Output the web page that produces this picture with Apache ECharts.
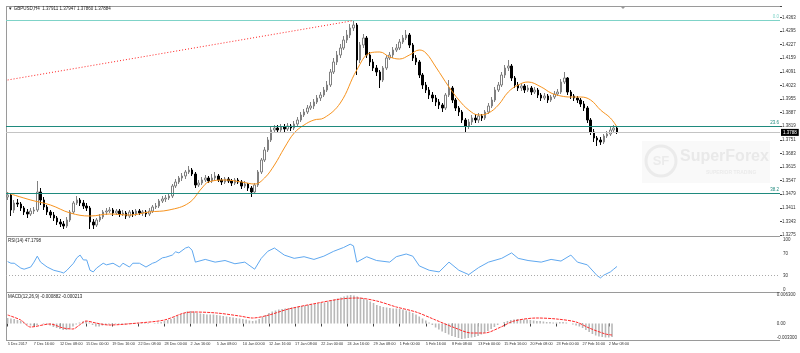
<!DOCTYPE html>
<html>
<head>
<meta charset="utf-8">
<script src="https://cdn.jsdelivr.net/npm/echarts@6/dist/echarts.min.js"></script>
<style>
html, body { margin: 0; padding: 0; background: #fff; }
#chart { width: 800px; height: 353px; }
</style>
</head>
<body>
<div id="chart"></div>
<script>
// time labels, one every 8 slots (each slot = 2 H4 bars)
const tickLabels = ['5 Dec 2017', '7 Dec 16:00', '12 Dec 08:00', '15 Dec 00:00', '19 Dec 16:00', '22 Dec 08:00',
  '28 Dec 00:00', '2 Jan 16:00', '5 Jan 08:00', '10 Jan 00:00', '12 Jan 16:00', '17 Jan 08:00', '22 Jan 00:00',
  '24 Jan 16:00', '29 Jan 08:00', '1 Feb 00:00', '5 Feb 16:00', '8 Feb 08:00', '13 Feb 00:00', '15 Feb 16:00',
  '20 Feb 08:00', '23 Feb 00:00', '27 Feb 16:00', '2 Mar 08:00']
const slotCount = 235

const open = [
  1.3465,1.3475,1.3400,1.3435,1.3430,1.3410,1.3390,1.3380,1.3395,1.3400,
  1.3490,1.3450,1.3415,1.3390,1.3375,1.3360,1.3340,1.3330,1.3320,1.3350,
  1.3390,1.3435,1.3450,1.3435,1.3420,1.3410,1.3340,1.3325,1.3350,1.3365,
  1.3390,1.3395,1.3400,1.3385,1.3395,1.3380,1.3385,1.3370,1.3390,1.3380,
  1.3395,1.3385,1.3390,1.3380,1.3395,1.3415,1.3420,1.3445,1.3455,1.3460,
  1.3470,1.3520,1.3540,1.3560,1.3570,1.3590,1.3600,1.3580,1.3525,1.3535,
  1.3550,1.3560,1.3545,1.3560,1.3570,1.3550,1.3540,1.3555,1.3545,1.3535,
  1.3550,1.3540,1.3520,1.3530,1.3510,1.3490,1.3525,1.3590,1.3650,1.3700,
  1.3750,1.3800,1.3810,1.3800,1.3815,1.3805,1.3820,1.3810,1.3830,1.3850,
  1.3875,1.3890,1.3910,1.3920,1.3940,1.3960,1.3975,1.4000,1.4025,1.4090,
  1.4140,1.4175,1.4210,1.4250,1.4275,1.4310,1.4325,1.4150,1.4225,1.4260,
  1.4175,1.4140,1.4110,1.4090,1.4050,1.4110,1.4160,1.4175,1.4200,1.4210,
  1.4240,1.4260,1.4275,1.4225,1.4160,1.4140,1.4075,1.4025,1.4000,1.3975,
  1.3960,1.3940,1.3925,1.3910,1.3975,1.4010,1.3950,1.3910,1.3890,1.3850,
  1.3820,1.3840,1.3860,1.3850,1.3870,1.3860,1.3890,1.3920,1.3950,1.4000,
  1.4025,1.4075,1.4110,1.4120,1.4060,1.4025,1.4010,1.4020,1.4000,1.4010,
  1.3990,1.4000,1.3975,1.3960,1.3970,1.3950,1.3965,1.3980,1.3990,1.4040,
  1.4060,1.3990,1.3970,1.3960,1.3950,1.3930,1.3910,1.3850,1.3790,1.3760,
  1.3750,1.3740,1.3770,1.3780,1.3800,1.3810
]
const close = [
  1.3475,1.3400,1.3435,1.3430,1.3410,1.3390,1.3380,1.3395,1.3400,1.3490,
  1.3450,1.3415,1.3390,1.3375,1.3360,1.3340,1.3330,1.3320,1.3350,1.3390,
  1.3435,1.3450,1.3435,1.3420,1.3410,1.3340,1.3325,1.3350,1.3365,1.3390,
  1.3395,1.3400,1.3385,1.3395,1.3380,1.3385,1.3370,1.3390,1.3380,1.3395,
  1.3385,1.3390,1.3380,1.3395,1.3415,1.3420,1.3445,1.3455,1.3460,1.3470,
  1.3520,1.3540,1.3560,1.3570,1.3590,1.3600,1.3580,1.3525,1.3535,1.3550,
  1.3560,1.3545,1.3560,1.3570,1.3550,1.3540,1.3555,1.3545,1.3535,1.3550,
  1.3540,1.3520,1.3530,1.3510,1.3490,1.3525,1.3590,1.3650,1.3700,1.3750,
  1.3800,1.3810,1.3800,1.3815,1.3805,1.3820,1.3810,1.3830,1.3850,1.3875,
  1.3890,1.3910,1.3920,1.3940,1.3960,1.3975,1.4000,1.4025,1.4090,1.4140,
  1.4175,1.4210,1.4250,1.4275,1.4310,1.4325,1.4150,1.4225,1.4260,1.4175,
  1.4140,1.4110,1.4090,1.4050,1.4110,1.4160,1.4175,1.4200,1.4210,1.4240,
  1.4260,1.4275,1.4225,1.4160,1.4140,1.4075,1.4025,1.4000,1.3975,1.3960,
  1.3940,1.3925,1.3910,1.3975,1.4010,1.3950,1.3910,1.3890,1.3850,1.3820,
  1.3840,1.3860,1.3850,1.3870,1.3860,1.3890,1.3920,1.3950,1.4000,1.4025,
  1.4075,1.4110,1.4120,1.4060,1.4025,1.4010,1.4020,1.4000,1.4010,1.3990,
  1.4000,1.3975,1.3960,1.3970,1.3950,1.3965,1.3980,1.3990,1.4040,1.4060,
  1.3990,1.3970,1.3960,1.3950,1.3930,1.3910,1.3850,1.3790,1.3760,1.3750,
  1.3740,1.3770,1.3780,1.3800,1.3810,1.3788
]
const high = [
  1.3490,1.3485,1.3450,1.3455,1.3440,1.3420,1.3405,1.3410,1.3415,1.3545,
  1.3510,1.3465,1.3425,1.3400,1.3390,1.3370,1.3355,1.3345,1.3365,1.3400,
  1.3445,1.3470,1.3460,1.3450,1.3435,1.3420,1.3355,1.3360,1.3380,1.3400,
  1.3410,1.3415,1.3410,1.3405,1.3405,1.3400,1.3395,1.3400,1.3400,1.3405,
  1.3405,1.3400,1.3400,1.3410,1.3425,1.3435,1.3455,1.3470,1.3475,1.3485,
  1.3530,1.3555,1.3570,1.3585,1.3600,1.3620,1.3610,1.3590,1.3550,1.3565,
  1.3575,1.3570,1.3580,1.3590,1.3580,1.3560,1.3565,1.3565,1.3555,1.3560,
  1.3560,1.3550,1.3545,1.3535,1.3520,1.3535,1.3600,1.3660,1.3715,1.3765,
  1.3815,1.3825,1.3825,1.3830,1.3830,1.3835,1.3830,1.3845,1.3865,1.3890,
  1.3905,1.3925,1.3940,1.3955,1.3975,1.3990,1.4015,1.4045,1.4105,1.4160,
  1.4195,1.4230,1.4270,1.4300,1.4330,1.4345,1.4335,1.4240,1.4280,1.4270,
  1.4190,1.4155,1.4125,1.4100,1.4120,1.4175,1.4190,1.4215,1.4230,1.4255,
  1.4275,1.4300,1.4285,1.4235,1.4175,1.4150,1.4085,1.4040,1.4015,1.3990,
  1.3975,1.3955,1.3935,1.3985,1.4050,1.4020,1.3960,1.3920,1.3900,1.3860,
  1.3855,1.3875,1.3880,1.3885,1.3880,1.3900,1.3935,1.3965,1.4015,1.4040,
  1.4090,1.4125,1.4150,1.4130,1.4070,1.4040,1.4035,1.4030,1.4025,1.4020,
  1.4015,1.4010,1.3985,1.3985,1.3980,1.3975,1.3995,1.4005,1.4055,1.4090,
  1.4065,1.4000,1.3980,1.3970,1.3960,1.3945,1.3920,1.3860,1.3805,1.3770,
  1.3765,1.3780,1.3795,1.3815,1.3825,1.3815
]
const low = [
  1.3450,1.3370,1.3385,1.3415,1.3395,1.3375,1.3360,1.3370,1.3380,1.3390,
  1.3425,1.3400,1.3375,1.3360,1.3345,1.3325,1.3315,1.3305,1.3310,1.3340,
  1.3380,1.3425,1.3420,1.3405,1.3395,1.3305,1.3305,1.3315,1.3340,1.3355,
  1.3375,1.3385,1.3370,1.3375,1.3365,1.3370,1.3355,1.3360,1.3365,1.3370,
  1.3375,1.3370,1.3365,1.3370,1.3385,1.3405,1.3410,1.3435,1.3440,1.3450,
  1.3460,1.3510,1.3530,1.3545,1.3555,1.3580,1.3570,1.3510,1.3515,1.3525,
  1.3540,1.3535,1.3535,1.3550,1.3540,1.3525,1.3530,1.3535,1.3520,1.3525,
  1.3530,1.3505,1.3510,1.3495,1.3465,1.3480,1.3515,1.3580,1.3640,1.3690,
  1.3740,1.3785,1.3785,1.3790,1.3790,1.3795,1.3795,1.3800,1.3820,1.3840,
  1.3865,1.3880,1.3900,1.3905,1.3930,1.3945,1.3965,1.3990,1.4015,1.4080,
  1.4125,1.4160,1.4200,1.4235,1.4260,1.4295,1.4075,1.4135,1.4210,1.4160,
  1.4120,1.4095,1.4070,1.4010,1.4040,1.4100,1.4150,1.4160,1.4190,1.4200,
  1.4230,1.4250,1.4210,1.4145,1.4125,1.4060,1.4005,1.3985,1.3955,1.3940,
  1.3920,1.3905,1.3890,1.3900,1.3965,1.3935,1.3895,1.3870,1.3835,1.3785,
  1.3805,1.3825,1.3835,1.3835,1.3845,1.3850,1.3880,1.3910,1.3940,1.3990,
  1.4015,1.4060,1.4095,1.4045,1.4010,1.3995,1.3995,1.3985,1.3990,1.3975,
  1.3980,1.3960,1.3945,1.3950,1.3935,1.3940,1.3955,1.3970,1.3980,1.4030,
  1.3975,1.3955,1.3945,1.3935,1.3915,1.3895,1.3835,1.3775,1.3740,1.3720,
  1.3725,1.3730,1.3760,1.3770,1.3790,1.3780
]

// moving average, read at [slot, price]
const maPoints = [
  [0,1.3485],[7,1.3450],[13,1.3425],[19,1.3385],[25,1.3370],[31,1.3380],[37,1.3375],[43,1.3390],[49,1.3400],[55,1.3435],
  [59,1.3510],[61,1.3540],[66,1.3550],[71,1.3540],[75,1.3530],[78,1.3560],[81,1.3625],[84,1.3710],[87,1.3785],[90,1.3825],
  [93,1.3850],[96,1.3860],[101,1.3935],[106,1.4100],[110,1.4185],[113,1.4190],[116,1.4165],[119,1.4155],[122,1.4175],[125,1.4200],
  [127,1.4185],[130,1.4115],[134,1.4015],[137,1.3950],[140,1.3900],[143,1.3875],[146,1.3885],[149,1.3925],[152,1.3990],[155,1.4025],
  [158,1.4040],[162,1.4015],[165,1.3985],[168,1.3970],[171,1.3965],[174,1.3965],[177,1.3950],[180,1.3900],[183,1.3860],[185,1.3815]
]

const rsiPoints = [
  [0,56],[1,53],[2,53],[4,44],[5,42],[7,46],[8,55],[9,66],[10,55],[12,46],[14,40],[16,37],[17,35],[18,40],[20,53],
  [21,63],[22,68],[23,59],[24,59],[25,40],[26,37],[27,44],[29,53],[30,50],[32,53],[34,46],[35,53],[37,46],[38,53],
  [40,53],[42,46],[44,53],[45,55],[47,63],[48,64],[50,68],[51,74],[52,72],[54,81],[55,83],[56,77],[57,55],[60,60],
  [63,55],[66,58],[69,52],[72,55],[75,42],[77,62],[79,75],[81,81],[84,68],[87,62],[90,65],[93,60],[96,66],[99,75],
  [102,82],[104,88],[105,85],[106,55],[109,65],[112,58],[116,55],[118,65],[121,70],[123,66],[125,48],[128,40],
  [131,37],[134,55],[137,40],[140,32],[143,45],[146,55],[150,62],[153,72],[155,62],[158,58],[162,55],[165,60],
  [168,57],[171,68],[173,55],[176,50],[179,30],[180,26],[181,31],[183,37],[184,42],[185,47]
]

// MACD histogram, in units of 0.0001
const macdHist = [
  11,10,9,7,5,2,-2,-4,-5,-3,
  0,-1,-2,-4,-7,-9,-11,-13,-13,-10,
  -6,-2,2,4,5,2,-3,-6,-6,-4,
  -3,-2,-2,-1,-1,-1,-2,-1,-1,-1,
  -1,-1,-1,-1,0,1,2,3,5,7,
  9,12,15,18,21,24,25,24,21,20,
  19,18,18,18,17,16,15,14,13,12,
  11,10,9,8,6,5,6,9,13,17,
  21,24,26,28,29,30,31,32,33,34,
  35,36,37,38,39,40,41,42,44,46,
  48,50,52,54,56,57,56,54,52,50,
  47,44,41,37,35,33,32,31,30,30,
  29,28,26,24,21,18,14,10,6,2,
  -3,-8,-12,-16,-19,-22,-25,-27,-29,-31,
  -30,-29,-28,-27,-25,-22,-19,-15,-11,-7,
  -3,0,3,5,7,8,9,9,8,8,
  7,6,5,5,4,3,3,2,2,3,
  3,2,0,-2,-4,-6,-9,-13,-17,-21,
  -24,-26,-27,-28,-28,-27
]
// MACD signal line, [slot, value in 0.0001]
const signalPoints = [
  [0,17],[4,7],[7,-7],[13,-1],[17,-9],[20,-11],[22,-3],[24,5],[27,1],[31,-3],[40,1],[48,7],[54,21],[57,23],
  [64,21],[71,15],[75,11],[80,17],[86,29],[95,41],[102,49],[107,51],[113,45],[119,33],[125,23],[131,7],
  [137,-9],[142,-19],[146,-19],[151,-7],[155,5],[162,11],[168,9],[174,3],[178,-9],[183,-21],[185,-23]
]

const fibLevels = [['0.0', 1.4347, '#7fd3c8'], ['23.6', 1.3820, '#1f8a7e'], ['38.2', 1.3485, '#1f8a7e']]
const bidPrice = 1.3788
const trendFrom = [0, 1.4050]
const trendTo = [105, 1.4347]

const priceMin = 1.3275
const priceMax = 1.4420
const priceStep = 0.0068

const chart = echarts.init(document.getElementById('chart'))

const slots = Array.from({ length: slotCount }, (_, i) => String(i))
const ohlc = close.map((c, i) => [open[i], c, low[i], high[i]])
const FONT = 'Liberation Sans'
const txt = '#333'

const hiddenX = (gi) => ({
  type: 'category', gridIndex: gi, data: slots, boundaryGap: true,
  axisLine: { show: false }, axisTick: { show: false }, axisLabel: { show: false }, splitLine: { show: false }
})
const showTick = (i) => i % 8 === 0 && i / 8 < tickLabels.length

const onStep = (v) => {
  const k = (v - priceMin) / priceStep
  return Math.abs(k - Math.round(k)) < 1e-6
}

const border = (x1, y1, x2, y2) => ({
  type: 'line', shape: { x1, y1, x2, y2 }, style: { stroke: '#9a9a9a', lineWidth: 1 }, silent: true
})

const option = {
  animation: false,
  backgroundColor: '#fff',
  grid: [
    { left: 6, right: 20, top: 6, height: 229 },
    { left: 6, right: 20, top: 237.7, height: 54.3 },
    { left: 6, right: 20, top: 292, height: 48 }
  ],
  xAxis: [
    hiddenX(0),
    hiddenX(1),
    {
      ...hiddenX(2),
      axisTick: { show: true, interval: showTick, alignWithLabel: true, length: 3, lineStyle: { color: '#444' } },
      axisLabel: {
        show: true, interval: showTick, align: 'left', margin: 2, fontSize: 3.8, color: txt, fontFamily: FONT,
        formatter: (v, i) => tickLabels[i / 8] || ''
      }
    }
  ],
  yAxis: [
    {
      type: 'value', gridIndex: 0, position: 'right', min: priceMin, max: priceMax, interval: priceStep,
      splitLine: { show: false }, axisLine: { show: false },
      axisTick: { show: true, length: 2, lineStyle: { color: '#444' } },
      axisLabel: { fontSize: 4.5, color: txt, margin: 2, fontFamily: FONT, formatter: v => onStep(v) ? v.toFixed(4) : '' }
    },
    {
      type: 'value', gridIndex: 1, position: 'right', min: 0, max: 100, interval: 10,
      splitLine: { show: false }, axisLine: { show: false }, axisTick: { show: false },
      axisLabel: { fontSize: 4.5, color: txt, margin: 3, fontFamily: FONT,
        verticalAlignMinLabel: 'bottom', verticalAlignMaxLabel: 'top',
        formatter: v => [0, 30, 70, 100].includes(Math.round(v)) ? String(Math.round(v)) : '' }
    },
    {
      type: 'value', gridIndex: 2, position: 'right', min: -0.0033, max: 0.0063, interval: 0.0033,
      splitLine: { show: false }, axisLine: { show: false }, axisTick: { show: false },
      axisLabel: { fontSize: 4.5, color: txt, margin: 3, fontFamily: FONT,
        verticalAlignMinLabel: 'bottom', verticalAlignMaxLabel: 'top',
        formatter: v => {
          if (Math.abs(v) < 1e-9) return '0.00'
          if (Math.abs(v + 0.0033) < 1e-9 || Math.abs(v - 0.0063) < 1e-9) return v.toFixed(6)
          return ''
        } }
    }
  ],
  series: [
    {
      type: 'candlestick', xAxisIndex: 0, yAxisIndex: 0, data: ohlc, barWidth: 2,
      itemStyle: { color: '#ffffff', color0: '#000000', borderColor: '#808080', borderColor0: '#000000', borderWidth: 1 }
    },
    {
      type: 'line', xAxisIndex: 0, yAxisIndex: 0, data: maPoints, smooth: 0.4, symbol: 'none',
      lineStyle: { color: '#f7931e', width: 1 },
      markLine: {
        silent: true, symbol: ['none', 'none'], animation: false, precision: 5,
        data: [
          ...fibLevels.map(([name, val, col]) => ({
            yAxis: val, lineStyle: { color: col, width: 1, type: 'solid' },
            label: { show: true, position: 'insideEndTop', formatter: name, fontSize: 4.5, color: col, distance: 1, fontFamily: FONT }
          })),
          {
            yAxis: bidPrice, lineStyle: { color: '#c4c4c4', width: 1, type: 'solid' },
            label: { show: true, position: 'end', formatter: bidPrice.toFixed(4), fontSize: 4.5, color: '#fff',
              backgroundColor: '#000', padding: [1, 2], distance: 1, fontFamily: FONT }
          },
          [
            { coord: [trendFrom[0], trendFrom[1]], lineStyle: { color: '#ff2020', width: 1, type: [1, 2] }, label: { show: false } },
            { coord: [trendTo[0], trendTo[1]] }
          ]
        ]
      }
    },
    {
      type: 'line', xAxisIndex: 1, yAxisIndex: 1, data: rsiPoints, symbol: 'none',
      lineStyle: { color: '#5fa8f0', width: 1 },
      markLine: {
        silent: true, symbol: ['none', 'none'], label: { show: false },
        data: [{ yAxis: 30, lineStyle: { color: '#aaaaaa', type: [1, 2], width: 1 } }]
      }
    },
    {
      type: 'bar', xAxisIndex: 2, yAxisIndex: 2, data: macdHist.map(v => v / 10000), barWidth: 1.6,
      itemStyle: { color: '#b8b8b8' }
    },
    {
      type: 'line', xAxisIndex: 2, yAxisIndex: 2, data: signalPoints.map(([i, v]) => [i, v / 10000]),
      smooth: 0.3, symbol: 'none', lineStyle: { color: '#ff2a2a', width: 1, type: [3, 1] }
    }
  ],
  graphic: [
    border(6, 6.5, 780, 6.5),
    border(6, 236.5, 780, 236.5),
    border(6, 292.5, 780, 292.5),
    border(6, 340.5, 780, 340.5),
    border(6.5, 6, 6.5, 341),
    { type: 'polygon', shape: { points: [[620, 6], [626, 6], [623, 9]] }, style: { fill: '#999' }, silent: true },
    { type: 'text', left: 8, top: 6.5, style: { text: '▼ GBPUSD,H4  1.37911 1.37947 1.37860 1.37884', fontSize: 4.5, fill: '#222', fontFamily: FONT } },
    { type: 'text', left: 8, top: 238.5, style: { text: 'RSI(14) 47.1798', fontSize: 4.5, fill: '#222', fontFamily: FONT } },
    { type: 'text', left: 8, top: 294.5, style: { text: 'MACD(12,26,9) -0.000882 -0.000213', fontSize: 4.5, fill: '#222', fontFamily: FONT } },
    {
      type: 'group', left: 642, top: 141, z: -1, silent: true,
      children: [
        { type: 'rect', shape: { x: 0, y: 0, width: 128, height: 42 }, style: { fill: '#f9f9f9' } },
        { type: 'circle', shape: { cx: 19, cy: 20, r: 15 }, style: { fill: 'none', stroke: '#ebebeb', lineWidth: 3 } },
        { type: 'text', x: 19, y: 20, style: { text: 'SF', fontSize: 13, fontWeight: 'bold', fill: '#ebebeb', align: 'center', verticalAlign: 'middle', fontFamily: FONT } },
        { type: 'text', x: 38, y: 8, style: { text: 'SuperForex', fontSize: 16, fontWeight: 'bold', fill: '#e9e9e9', fontFamily: FONT } },
        { type: 'text', x: 64, y: 29, style: { text: 'SUPERIOR TRADING', fontSize: 5, fontWeight: 'bold', fill: '#ebebeb', fontFamily: FONT } }
      ]
    }
  ]
}

chart.setOption(option)
</script>
</body>
</html>
